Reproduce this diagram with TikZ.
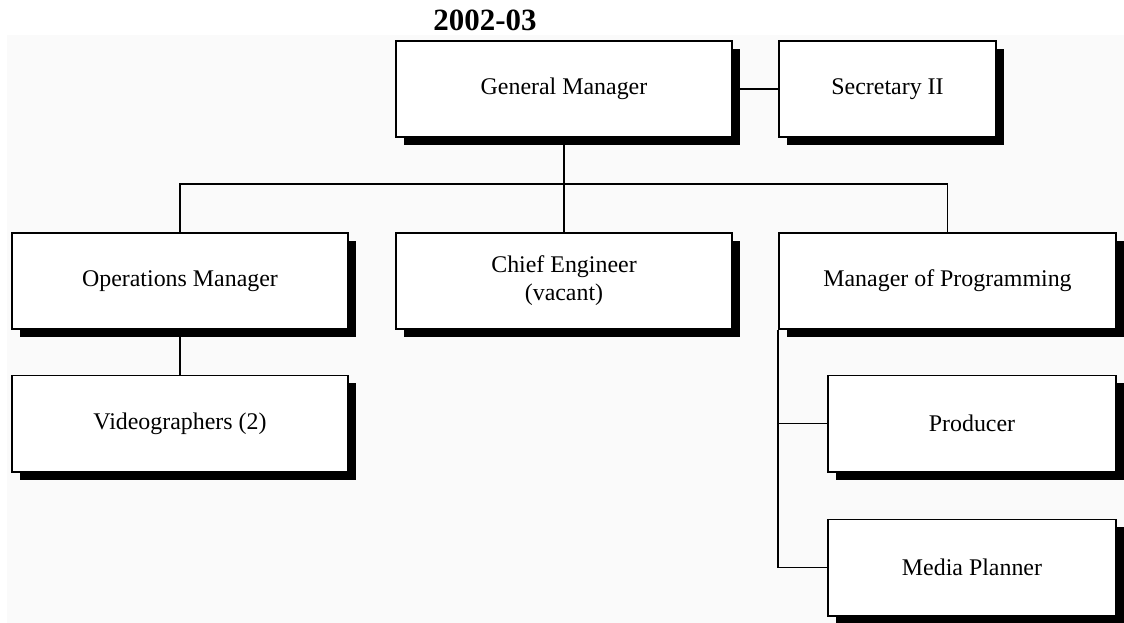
\documentclass[tikz,border=0pt]{standalone}
\usepackage{fontspec}
\setmainfont{Liberation Serif}
\usetikzlibrary{shadows}

\begin{document}
\begin{tikzpicture}[
  x=0.025cm, y=-0.025cm,
  box/.style={draw,fill=white,line width=1.4pt,minimum width=8.4cm,minimum height=2.4cm,
    align=center,font=\fontsize{17}{20}\selectfont,inner sep=0pt,
    drop shadow={fill=black,opacity=1,shadow xshift=0.2cm,shadow yshift=-0.2cm}},
  sbox/.style={box,minimum width=7.2cm},
  ln/.style={line width=1.4pt}
]
\useasboundingbox (0,0) rectangle (1124,623);
\fill[black!2] (7,35) rectangle (1124,623);
\node[font=\bfseries\fontsize{22}{24}\selectfont] (title) at (485,20) {2002-03};

% Top row
\node[box] (gm) at (564,89) {General Manager};
\node[box,minimum width=5.425cm] (sec) at (887.5,89) {Secretary II};
\draw[ln] (gm.east) -- (sec.west);

% Second row
\coordinate (bus) at (564,184);
\node[box] (ops) at (180,281) {Operations Manager};
\node[box] (chief) at (564,281) {Chief Engineer\\(vacant)};
\node[box] (mop) at (947.5,281) {Manager of Programming};
\draw[ln] (gm.south) -- (chief.north);
\draw[ln] (ops.north) -- (ops.north |- bus) -- (mop.north |- bus) -- (mop.north);

% Third row
\node[box] (video) at (180,423.5) {Videographers (2)};
\node[sbox] (prod) at (972,423.5) {Producer};
\node[sbox] (media) at (972,567.5) {Media Planner};
\draw[ln] (ops.south) -- (video.north);
\draw[ln] (mop.south west) -- (mop.south west |- media.west) -- (media.west);
\draw[ln] (mop.south west |- prod.west) -- (prod.west);
\end{tikzpicture}
\end{document}
